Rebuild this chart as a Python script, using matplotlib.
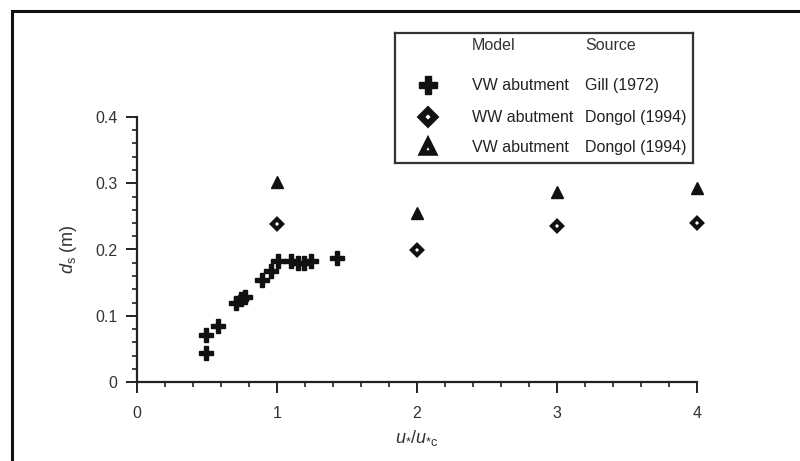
import matplotlib
matplotlib.use('Agg')
import matplotlib.pyplot as plt
from matplotlib.patches import Rectangle
from matplotlib.ticker import MultipleLocator

plt.rcParams['font.family'] = ['Liberation Sans', 'DejaVu Sans']
plt.rcParams['mathtext.fontset'] = 'custom'
plt.rcParams['mathtext.rm'] = 'Liberation Sans'
plt.rcParams['mathtext.it'] = 'Liberation Sans:italic'

# Gill (1972), VW abutment
gill_x = [0.49, 0.49, 0.58, 0.71, 0.74, 0.77, 0.89, 0.96, 1.01, 1.10, 1.15, 1.19, 1.24, 1.43]
gill_y = [0.044, 0.071, 0.084, 0.120, 0.125, 0.129, 0.154, 0.167, 0.183, 0.182, 0.179, 0.179, 0.182, 0.187]

# Dongol (1994), WW abutment
ww_x = [1.0, 2.0, 3.0, 4.0]
ww_y = [0.238, 0.199, 0.235, 0.240]

# Dongol (1994), VW abutment
vw_x = [1.0, 2.0, 3.0, 4.0]
vw_y = [0.302, 0.255, 0.287, 0.293]

models = ['VW abutment', 'WW abutment', 'VW abutment']
sources = ['Gill (1972)', 'Dongol (1994)', 'Dongol (1994)']

fig = plt.figure(figsize=(8.0, 4.61), dpi=100)
fig.patch.set_facecolor('white')

# outer frame (cropped on the right and bottom)
fig.add_artist(Rectangle((12 / 800, -0.1), 1.2, (461 - 11) / 461 + 0.1,
                         transform=fig.transFigure, fill=False,
                         edgecolor='#111111', linewidth=2.2))

ax = fig.add_axes([137 / 800, (461 - 382) / 461, 560 / 800, 265 / 461])

cross = dict(marker='P', color='#111111', markersize=10, linestyle='none', clip_on=False)
diamond = dict(marker='D', markerfacecolor='white', markeredgecolor='#111111',
               markeredgewidth=3.0, markersize=5.5, linestyle='none', clip_on=False)
tri = dict(marker='^', color='#111111', markersize=8, linestyle='none', clip_on=False)

ax.plot(gill_x, gill_y, **cross)
ax.plot(ww_x, ww_y, **diamond)
ax.plot(vw_x, vw_y, **tri)

ax.set_xlim(0, 4)
ax.set_ylim(0, 0.4)
ax.spines['top'].set_visible(False)
ax.spines['right'].set_visible(False)
for s in ['left', 'bottom']:
    ax.spines[s].set_linewidth(1.6)
    ax.spines[s].set_color('#222222')

ax.xaxis.set_major_locator(MultipleLocator(1))
ax.xaxis.set_minor_locator(MultipleLocator(0.2))
ax.yaxis.set_major_locator(MultipleLocator(0.1))
ax.yaxis.set_minor_locator(MultipleLocator(0.02))
ax.set_yticks([0, 0.1, 0.2, 0.3, 0.4])
ax.set_yticklabels(['0', '0.1', '0.2', '0.3', '0.4'])
ax.tick_params(which='major', direction='out', length=8, width=1.4, color='#222222',
               labelsize=11.5, labelcolor='#333333', pad=6)
ax.tick_params(which='minor', direction='out', length=3.5, width=1.2, color='#222222')
ax.tick_params(axis='x', which='major', pad=9)

ax.set_xlabel(r'$u_{*}/u_{*\mathrm{c}}$', fontsize=13, color='#333333', labelpad=5)
ax.set_ylabel(r'$d_\mathrm{s}$ (m)', fontsize=13, color='#333333', labelpad=12)

# legend box
leg = fig.add_axes([395 / 800, (461 - 163) / 461, 298 / 800, 130 / 461])
leg.set_xlim(0, 298)
leg.set_ylim(130, 0)
leg.set_xticks([])
leg.set_yticks([])
for s in leg.spines.values():
    s.set_linewidth(1.6)
    s.set_color('#333333')
leg.text(77, 12, 'Model', fontsize=11.5, color='#333333', va='center')
leg.text(190, 12, 'Source', fontsize=11.5, color='#333333', va='center')

leg_styles = [
    dict(marker='P', color='#111111', markersize=13, linestyle='none'),
    dict(marker='D', markerfacecolor='white', markeredgecolor='#111111',
         markeredgewidth=4.5, markersize=7, linestyle='none'),
    dict(marker='^', markerfacecolor='white', markeredgecolor='#111111',
         markeredgewidth=4.0, markersize=8, linestyle='none'),
]
row_y = [52, 84, 114]
for y, st, m, src in zip(row_y, leg_styles, models, sources):
    leg.plot([33], [y], **st)
    leg.text(77, y, m, fontsize=11.5, color='#222222', va='center')
    leg.text(190, y, src, fontsize=11.5, color='#222222', va='center')

fig.savefig('out.png', dpi=100, facecolor='white')
